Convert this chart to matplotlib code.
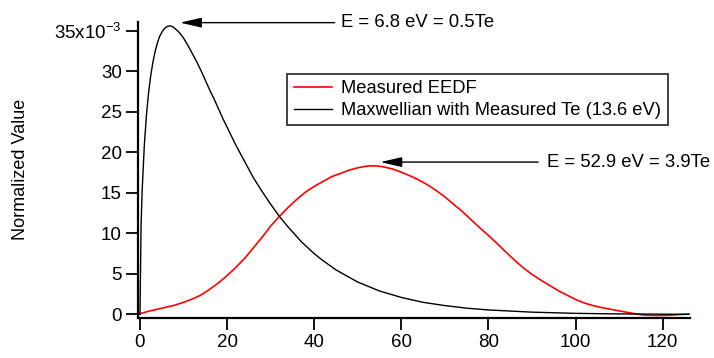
import matplotlib
matplotlib.use("Agg")
import matplotlib.pyplot as plt

plt.rcParams['font.family'] = ['Liberation Sans', 'DejaVu Sans']

# energy (eV) and normalized values (x1e-3)
energy_maxw = [0, 0.25, 0.5, 1, 1.5, 2, 2.5, 3, 3.5, 4, 4.5, 5, 5.5, 6, 6.5, 7, 7.5, 8, 9,
               10, 11, 12, 13, 14, 15, 16, 17, 18, 19, 20, 22, 24, 26, 28, 30, 32, 34, 37,
               40, 42, 45, 47, 50, 55, 60, 65, 70, 75, 80, 90, 100, 110, 120, 126]
maxwellian = [0, 11.0, 15.3, 20.9, 24.7, 27.5, 29.6, 31.2, 32.5, 33.5, 34.3, 34.8, 35.2,
              35.45, 35.57, 35.6, 35.5, 35.3, 34.8, 34.1, 33.2, 32.2, 31.2, 30.1, 28.9,
              27.7, 26.6, 25.4, 24.2, 23.1, 20.9, 18.9, 16.9, 15.2, 13.6, 12.1, 10.8, 9.0,
              7.5, 6.65, 5.5, 4.9, 4.0, 2.9, 2.1, 1.5, 1.1, 0.78, 0.56, 0.29, 0.14, 0.07,
              0.04, 0.02]

energy_meas = [0, 2, 4, 6, 8, 10, 12, 14, 16, 18, 20, 22, 24, 26, 28, 30, 32, 34, 36, 38,
               40, 42, 44, 46, 48, 50, 52, 54, 56, 58, 60, 62, 64, 66, 68, 70, 72, 74, 76,
               78, 80, 82, 84, 86, 88, 90, 92, 94, 96, 98, 100, 102, 104, 106, 108, 110,
               112, 114, 116, 118, 120, 122, 124, 126]
measured = [0.1, 0.4, 0.65, 0.9, 1.15, 1.5, 1.9, 2.4, 3.1, 3.9, 4.8, 5.8, 6.9, 8.2, 9.5,
            10.9, 12.1, 13.2, 14.2, 15.1, 15.8, 16.4, 17.0, 17.4, 17.8, 18.1, 18.3, 18.35,
            18.2, 17.95, 17.55, 17.1, 16.6, 16.0, 15.3, 14.5, 13.6, 12.7, 11.7, 10.7, 9.75,
            8.75, 7.7, 6.7, 5.75, 4.95, 4.25, 3.6, 2.95, 2.4, 1.85, 1.42, 1.1, 0.85, 0.65,
            0.45, 0.25, 0.05, -0.08, -0.12, -0.12, -0.08, 0.0, 0.05]

xticks = [0, 20, 40, 60, 80, 100, 120]
yticks = [0, 5, 10, 15, 20, 25, 30, 35]
ytick_labels = ['0', '5', '10', '15', '20', '25', '30', r'35x10$^{\mathregular{-3}}$']

fig = plt.figure(figsize=(7.14, 3.58), dpi=100)
ax = fig.add_axes([0.193, 0.112, 0.773, 0.827])

ax.plot(energy_meas, measured, color='red', lw=1.2, label='Measured EEDF')
ax.plot(energy_maxw, maxwellian, color='black', lw=1.0,
        label='Maxwellian with Measured Te (13.6 eV)')

ax.set_xlim(-0.5, 126.2)
ax.set_ylim(-0.42, 36.1)
ax.set_xticks(xticks)
ax.set_yticks(yticks)
ax.set_yticklabels(ytick_labels)
ax.tick_params(labelsize=13.5, length=8.5, width=1.3, pad=3)

for s in ['top', 'right']:
    ax.spines[s].set_visible(False)
for s in ['left', 'bottom']:
    ax.spines[s].set_linewidth(1.6)

ax.set_ylabel('Normalized Value', fontsize=13)
ax.yaxis.set_label_coords(-0.197, 0.5)

leg = ax.legend(loc='upper left', bbox_to_anchor=(0.271, 0.824), borderaxespad=0,
                fontsize=13.2, frameon=True, fancybox=False, handlelength=2.1,
                handletextpad=0.5, borderpad=0.35, labelspacing=0.25)
leg.get_frame().set_edgecolor('black')
leg.get_frame().set_linewidth(1.3)

arrow = dict(arrowstyle='-|>,head_length=1.3,head_width=0.3', color='black', lw=1.0,
             mutation_scale=10, shrinkA=0, shrinkB=0)
ax.annotate('', xy=(9.2, 36.0), xytext=(44.7, 36.0), arrowprops=arrow)
ax.text(46.1, 36.0, 'E = 6.8 eV = 0.5Te', fontsize=13.3, ha='left', va='center')
ax.annotate('', xy=(55.2, 18.8), xytext=(91.4, 18.8), arrowprops=arrow)
ax.text(93.4, 18.8, 'E = 52.9 eV = 3.9Te', fontsize=13.3, ha='left', va='center')

fig.savefig('out.png', dpi=100)
